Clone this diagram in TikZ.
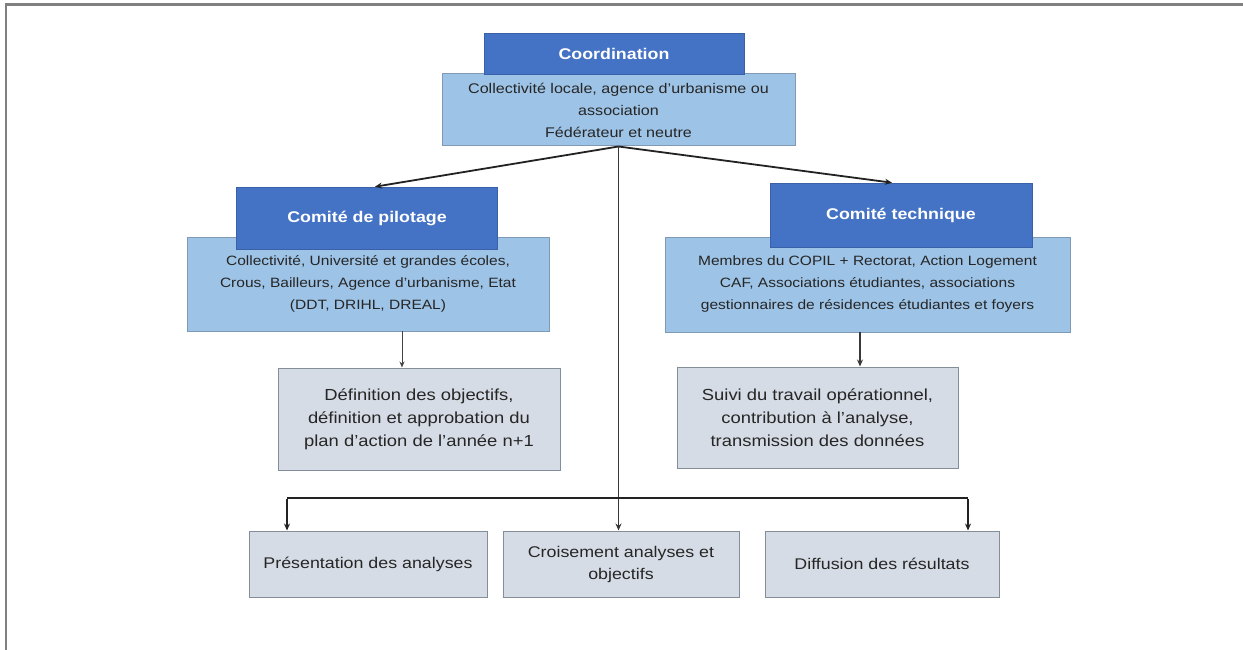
\documentclass[tikz,border=0pt]{standalone}
\usepackage{fontspec}
\setmainfont[FakeStretch=1.15]{Liberation Sans}
\usetikzlibrary{arrows.meta,calc}
\definecolor{darkblue}{HTML}{4472C4}
\definecolor{lightblue}{HTML}{9DC3E6}
\definecolor{lightborder}{HTML}{8099B5}
\definecolor{greyfill}{HTML}{D6DCE5}
\definecolor{greyborder}{HTML}{848E99}
\definecolor{framecol}{HTML}{808080}
\definecolor{txtcol}{HTML}{262626}
\definecolor{linecol}{HTML}{222222}
\tikzset{
  darkbox/.style={rectangle, fill=darkblue, draw=darkblue!85!black, line width=0.6pt, text=white,
    font=\bfseries\fontsize{15.5}{19}\selectfont, inner sep=0pt},
  lightbox/.style={rectangle, fill=lightblue, draw=lightborder, line width=1pt, text=txtcol,
    align=center, inner sep=0pt},
  greybox/.style={rectangle, fill=greyfill, draw=greyborder, line width=1pt, text=txtcol,
    align=center, inner sep=0pt},
  mainarrow/.style={draw=linecol, line width=1.8pt, -{Stealth[length=7pt,width=6pt]}},
  midarrow/.style={draw=linecol!90, line width=1.6pt, -{Stealth[length=7pt,width=6pt]}},
  thinarrow/.style={draw=linecol!85, line width=1pt, -{Stealth[length=6pt,width=5pt]}},
  busline/.style={draw=linecol, line width=1.8pt},
}
\begin{document}
\begin{tikzpicture}[x=1pt,y=-1pt]
\useasboundingbox (0,0) rectangle (1243,650);
\draw[framecol, line width=2.5pt] (6,650) -- (6,4.5) -- (1243,4.5);

% Coordination
\node[lightbox, minimum width=353pt, minimum height=72pt, font=\fontsize{14}{22}\selectfont] (coordL) at (618.5,110)
  {Collectivité locale, agence d’urbanisme ou\\association\\Fédérateur et neutre};
\node[darkbox, minimum width=260pt, minimum height=41pt] (coordD) at (614,53.5) {Coordination};

% Comité de pilotage
\node[lightbox, minimum width=362pt, minimum height=94pt, font=\fontsize{13.5}{22}\selectfont] (pilL) at (368,284)
  {Collectivité, Université et grandes écoles,\\Crous, Bailleurs, Agence d’urbanisme, Etat\\(DDT, DRIHL, DREAL)};
\node[darkbox, minimum width=261pt, minimum height=62pt] (pilD) at (367,218) {Comité de pilotage};

% Comité technique
\node[lightbox, minimum width=405pt, minimum height=95pt, font=\fontsize{13.5}{22}\selectfont] (techL) at (867.5,284.5)
  {Membres du COPIL + Rectorat, Action Logement\\CAF, Associations étudiantes, associations\\gestionnaires de résidences étudiantes et foyers};
\node[darkbox, minimum width=262pt, minimum height=64pt] (techD) at (901,215) {Comité technique};

% Second level
\node[greybox, minimum width=282pt, minimum height=102pt, font=\fontsize{16}{23}\selectfont] (def) at (419,419)
  {Définition des objectifs,\\définition et approbation du\\plan d’action de l’année n+1};
\node[greybox, minimum width=281pt, minimum height=101pt, font=\fontsize{16}{23}\selectfont] (suivi) at (817.5,417.5)
  {Suivi du travail opérationnel,\\contribution à l’analyse,\\transmission des données};

% Bottom
\node[greybox, minimum width=238pt, minimum height=66pt, font=\fontsize{15.5}{22}\selectfont] (pres) at (368,564)
  {Présentation des analyses};
\node[greybox, minimum width=236pt, minimum height=66pt, font=\fontsize{15.5}{22}\selectfont] (crois) at (621,564)
  {Croisement analyses et\\objectifs};
\node[greybox, minimum width=234pt, minimum height=66pt, font=\fontsize{15.5}{22}\selectfont] (diff) at (882,564)
  {Diffusion des résultats};

% Connectors
\coordinate (hub) at (coordL.south);
\draw[mainarrow] (hub) -- ($(pilD.north)+(8,0)$);
\draw[mainarrow] (hub) -- ($(techD.north)+(-9,0)$);
\draw[midarrow] (hub) -- (hub |- crois.north);

\coordinate (pa) at (402,331);
\draw[thinarrow] (pa) -- (pa |- def.north);
\coordinate (ta) at (860,332);
\draw[midarrow] (ta) -- (ta |- suivi.north);

\coordinate (hl) at (287,498);
\coordinate (hr) at (968,498);
\draw[busline] (hl) -- (hr);
\draw[mainarrow] ([yshift=-0.9pt]hl) -- (hl |- pres.north);
\draw[mainarrow] ([yshift=-0.9pt]hr) -- (hr |- diff.north);
\end{tikzpicture}
\end{document}
